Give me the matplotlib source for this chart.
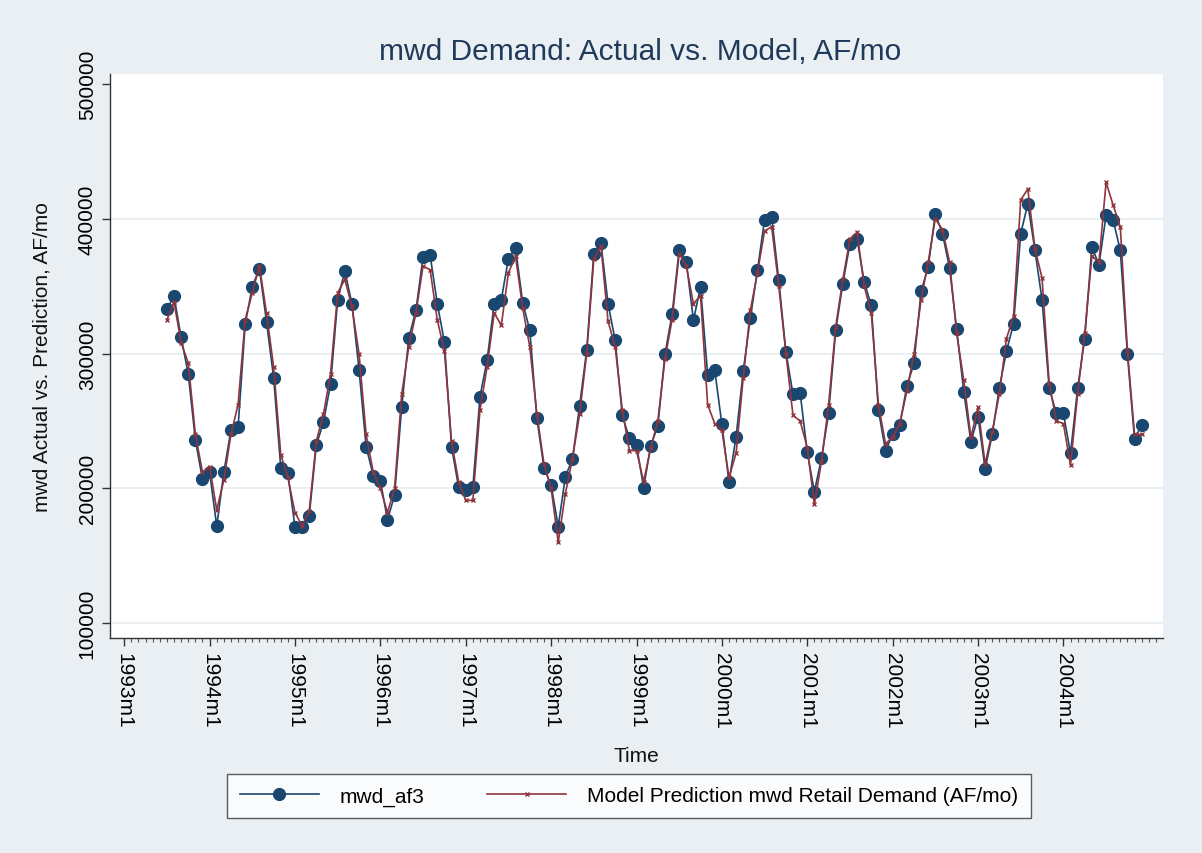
import matplotlib
matplotlib.use("Agg")
import matplotlib.pyplot as plt
import numpy as np
import pandas as pd

plt.rcParams['font.family'] = ['Liberation Sans', 'DejaVu Sans']

# Monthly data, 1993m7 .. 2004m12 (values in AF/mo)
start_period = "1993-07"
actual_k = [
    333.3, 342.4, 311.9, 284.7, 235.8, 206.7,                                   # 1993 Jul-Dec
    211.9, 171.9, 211.9, 243.2, 245.2, 321.7, 349.6, 363.0, 323.4, 282.0, 215.3, 211.1,  # 1994
    171.1, 171.1, 179.5, 232.1, 248.9, 277.3, 339.8, 361.3, 337.0, 288.1, 230.9, 209.4,  # 1995
    205.7, 176.5, 195.0, 260.5, 311.6, 332.1, 371.6, 372.8, 337.0, 308.7, 230.9, 200.7,  # 1996
    198.7, 200.7, 267.9, 295.1, 337.0, 340.0, 370.4, 378.3, 337.8, 317.3, 251.9, 214.8,  # 1997
    202.5, 171.6, 208.6, 221.7, 261.2, 302.5, 374.1, 382.2, 337.0, 309.9, 254.3, 237.0,  # 1998
    232.1, 200.5, 231.6, 246.2, 299.5, 329.1, 377.0, 367.9, 324.7, 349.4, 284.4, 287.7,  # 1999
    247.4, 204.9, 238.3, 286.9, 326.4, 361.7, 399.3, 401.2, 354.3, 301.2, 269.6, 270.9,  # 2000
    226.7, 197.5, 222.2, 255.6, 317.3, 351.9, 381.5, 385.2, 353.1, 335.8, 258.0, 227.7,  # 2001
    240.0, 246.9, 275.8, 292.6, 346.2, 364.2, 403.7, 388.9, 363.5, 318.0, 271.6, 234.6,  # 2002
    253.1, 214.3, 240.0, 274.6, 301.7, 322.2, 388.9, 411.1, 376.5, 340.0, 274.6, 255.6,  # 2003
    255.6, 225.9, 274.1, 311.1, 379.0, 365.9, 402.5, 398.8, 376.5, 299.3, 236.5, 246.9,  # 2004
]
pred_k = [
    325, 338, 308, 293, 240, 212,
    216, 184, 206, 240, 262, 325, 345, 365, 330, 290, 225, 208,
    182, 172, 183, 235, 255, 285, 345, 355, 335, 300, 240, 212,
    200, 182, 200, 270, 305, 330, 365, 362, 325, 302, 235, 205,
    191, 191, 258, 290, 330, 321, 360, 372, 334, 305, 255, 218,
    200, 160, 196, 222, 255, 300, 370, 380, 324, 305, 258, 228,
    228, 205, 230, 250, 296, 325, 374, 365, 337, 343, 262, 248,
    243, 208, 226, 282, 332, 360, 391, 394, 350, 300, 254, 250,
    230, 188, 220, 262, 320, 355, 385, 390, 350, 330, 262, 233,
    238, 248, 272, 300, 340, 368, 400, 392, 368, 315, 280, 238,
    260, 218, 242, 270, 311, 328, 414, 422, 378, 356, 278, 250,
    248, 217, 270, 315, 372, 368, 427, 410, 394, 302, 240, 240,
]
y_ticks = [100000, 200000, 300000, 400000, 500000]
x_tick_years = list(range(1993, 2005))

title = "mwd Demand: Actual vs. Model, AF/mo"
ylabel = "mwd Actual vs. Prediction, AF/mo"
xlabel = "Time"
label_actual = "mwd_af3"
label_pred = "Model Prediction mwd Retail Demand (AF/mo)"

periods = pd.period_range(start=start_period, periods=len(actual_k), freq="M")
base = pd.Period("1993-01", freq="M")
t = np.array([(p - base).n for p in periods])
actual = np.array(actual_k) * 1000
pred = np.array(pred_k) * 1000

BG = '#EAEFF3'
NAVY = '#1A476F'
MAROON = '#90353B'

fig = plt.figure(figsize=(12.02, 8.54), dpi=100, facecolor=BG)
W, H = 1202, 854
ax = fig.add_axes([110 / W, 1 - 639 / H, (1163 - 110) / W, (639 - 75) / H])
ax.set_facecolor('white')

ax.plot(t, actual, color=NAVY, lw=1.2, marker='o', ms=8.5, mec=NAVY, mfc=NAVY,
        label=label_actual, zorder=3)
ax.plot(t, pred, color=MAROON, lw=1.2, marker='x', ms=3.5, mew=1.0,
        label=label_pred, zorder=4)

ax.set_xlim(-2.0, 146.0)
ax.set_ylim(88900, 507400)

TICKFS = 15
ax.set_yticks(y_ticks)
ax.set_yticklabels([str(v) for v in y_ticks], rotation=90, va='center', fontsize=TICKFS)
major_x = [(y - 1993) * 12 for y in x_tick_years]
ax.set_xticks(major_x)
ax.set_xticklabels([f"{y}m1" for y in x_tick_years], rotation=-90, fontsize=TICKFS, va='top')
ax.set_xticks(np.arange(0, 146, 1), minor=True)
ax.tick_params(axis='both', which='major', direction='out', length=6, width=1, color='#333333')
ax.tick_params(axis='x', which='minor', direction='out', length=3, width=0.8, color='#555555')
ax.tick_params(axis='x', which='major', pad=4)

for v in y_ticks[:-1]:
    ax.axhline(v, color='#E6ECF0', lw=1.2, zorder=1)

for s in ['top', 'right']:
    ax.spines[s].set_visible(False)
for s in ['left', 'bottom']:
    ax.spines[s].set_color('#333333')
    ax.spines[s].set_linewidth(1.0)

fig.text(640 / W, 1 - 52 / H, title, ha='center', va='center', fontsize=21.5, color='#1F3A5A')
fig.text(42 / W, 1 - 357 / H, ylabel, ha='center', va='center', rotation=90, fontsize=15, color='#111111')
fig.text(636 / W, 1 - 757 / H, xlabel, ha='center', va='center', fontsize=15, color='#111111')

h, l = ax.get_legend_handles_labels()
leg = fig.legend(h, l, loc='center', bbox_to_anchor=(629 / W, 1 - 797 / H), ncol=2,
                 frameon=True, fancybox=False, edgecolor='#333333', facecolor='white',
                 fontsize=15, handlelength=3.8, handletextpad=1.0, columnspacing=3.0,
                 borderpad=0.6)
leg.get_frame().set_linewidth(1.0)

fig.savefig("out.png", dpi=100, facecolor=BG)
